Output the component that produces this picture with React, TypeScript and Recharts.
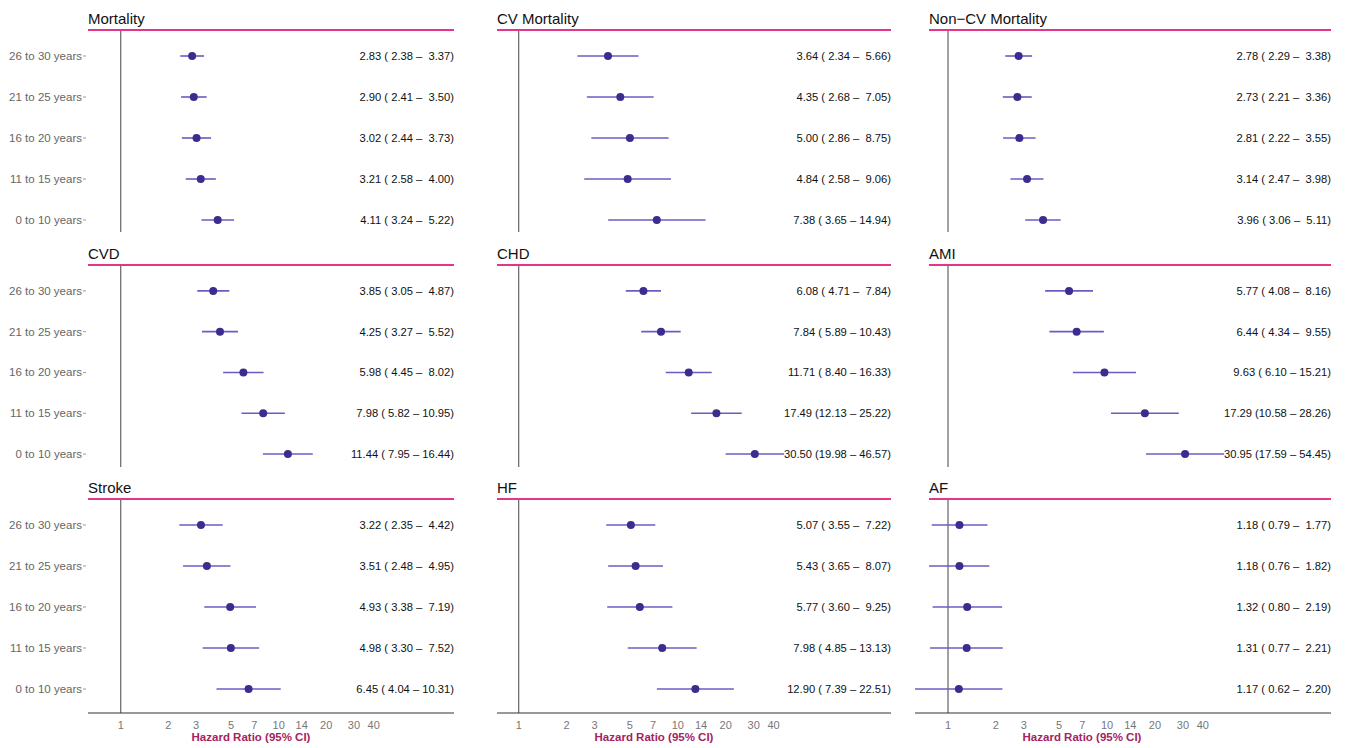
import React from 'react';
import { ScatterChart, Scatter, XAxis, YAxis, ErrorBar, ReferenceLine } from 'recharts';

const ageGroups = ['26 to 30 years', '21 to 25 years', '16 to 20 years', '11 to 15 years', '0 to 10 years'];
const xTicks = [1, 2, 3, 5, 7, 10, 14, 20, 30, 40];

// [HR, lower, upper], top row first
const mortality = [[2.83, 2.38, 3.37], [2.90, 2.41, 3.50], [3.02, 2.44, 3.73], [3.21, 2.58, 4.00], [4.11, 3.24, 5.22]];
const cvMortality = [[3.64, 2.34, 5.66], [4.35, 2.68, 7.05], [5.00, 2.86, 8.75], [4.84, 2.58, 9.06], [7.38, 3.65, 14.94]];
const nonCvMortality = [[2.78, 2.29, 3.38], [2.73, 2.21, 3.36], [2.81, 2.22, 3.55], [3.14, 2.47, 3.98], [3.96, 3.06, 5.11]];
const cvd = [[3.85, 3.05, 4.87], [4.25, 3.27, 5.52], [5.98, 4.45, 8.02], [7.98, 5.82, 10.95], [11.44, 7.95, 16.44]];
const chd = [[6.08, 4.71, 7.84], [7.84, 5.89, 10.43], [11.71, 8.40, 16.33], [17.49, 12.13, 25.22], [30.50, 19.98, 46.57]];
const ami = [[5.77, 4.08, 8.16], [6.44, 4.34, 9.55], [9.63, 6.10, 15.21], [17.29, 10.58, 28.26], [30.95, 17.59, 54.45]];
const stroke = [[3.22, 2.35, 4.42], [3.51, 2.48, 4.95], [4.93, 3.38, 7.19], [4.98, 3.30, 7.52], [6.45, 4.04, 10.31]];
const hf = [[5.07, 3.55, 7.22], [5.43, 3.65, 8.07], [5.77, 3.60, 9.25], [7.98, 4.85, 13.13], [12.90, 7.39, 22.51]];
const af = [[1.18, 0.79, 1.77], [1.18, 0.76, 1.82], [1.32, 0.80, 2.19], [1.31, 0.77, 2.21], [1.17, 0.62, 2.20]];

const panels = [
  { title: 'Mortality', values: mortality },
  { title: 'CV Mortality', values: cvMortality },
  { title: 'Non\u2212CV Mortality', values: nonCvMortality },
  { title: 'CVD', values: cvd },
  { title: 'CHD', values: chd },
  { title: 'AMI', values: ami },
  { title: 'Stroke', values: stroke },
  { title: 'HF', values: hf },
  { title: 'AF', values: af },
];

const cols = [
  { left: 88, titleLeft: 88, right: 454, domain: [0.62, 129], labelX: 251 },
  { left: 497, titleLeft: 497, right: 891, domain: [0.73, 219], labelX: 654 },
  { left: 915, titleLeft: 929, right: 1331, domain: [0.62, 256], labelX: 1082 },
];
const rows = [
  { line: 30, bottom: 232, lastDot: 220, axis: false },
  { line: 265, bottom: 467, lastDot: 454, axis: false },
  { line: 499, bottom: 713, lastDot: 689, axis: true },
];

const font = '"Liberation Sans", Arial, sans-serif';
const YW = 80;

const fmt = (v: number) => v.toFixed(2).padStart(5, '\u00a0');

const YTick = ({ x, y, payload }: any) => (
  <g>
    <line x1={x + 1} x2={x + 4} y1={y} y2={y} stroke="#999" />
    <text x={x} y={y} dy="0.35em" textAnchor="end" fontSize={11.5} fill="#666" fontFamily={font}>
      {ageGroups[5 - payload.value]}
    </text>
  </g>
);

const Panel = ({ title, values, col, row }: any) => {
  const c = cols[col];
  const r = rows[row];
  const showY = col === 0;
  const plotW = c.right - c.left;
  const W = plotW + (showY ? YW : 0);
  const plotH = r.bottom - (r.line + 1);
  const axisH = r.axis ? 22 : 0;
  const yMin = 1 - (r.bottom - r.lastDot) / 41;
  const data = values.map((v: number[], i: number) => ({
    hr: v[0], lo: v[1], hi: v[2], pos: 5 - i, err: [v[0] - v[1], v[2] - v[0]],
  }));
  const shape = (p: any) => {
    const d = p.payload;
    return (
      <g>
        <circle cx={p.cx} cy={p.cy} r={4} fill="#3d2c8d" />
        <text x={W} y={p.cy} dy="0.35em" textAnchor="end" fontSize={11.2} fill="#111" fontFamily={font}>
          {`${d.hr.toFixed(2)} (${fmt(d.lo)} \u2013\u00a0${fmt(d.hi)})`}
        </text>
      </g>
    );
  };
  return (
    <div style={{ position: 'absolute', left: c.left - (showY ? YW : 0), top: r.line - 20, width: W }}>
      <div style={{ marginLeft: (showY ? YW : 0) + c.titleLeft - c.left, height: 19, borderBottom: '2px solid #e3358a', fontFamily: font, fontSize: 15, color: '#111', lineHeight: '17px' }}>
        {title}
      </div>
      <ScatterChart width={W} height={plotH + axisH} margin={{ top: 0, right: 0, bottom: 0, left: 0 }} data={data}>
        <XAxis
          type="number" dataKey="hr" scale="log" domain={c.domain}
          ticks={xTicks} hide={!r.axis} height={axisH} tickLine={false} axisLine={{ stroke: '#333' }}
          tick={{ fontSize: 11, fill: '#777', fontFamily: font }} interval={0}
        />
        <YAxis
          type="number" dataKey="pos" domain={[yMin, 5 + 25 / 41]} ticks={[1, 2, 3, 4, 5]} hide={!showY} width={YW}
          axisLine={false} tickLine={false} tickSize={4} tick={<YTick />}
        />
        <ReferenceLine x={1} stroke="#444" strokeWidth={1} />
        <Scatter dataKey="pos" shape={shape} isAnimationActive={false}>
          <ErrorBar dataKey="err" direction="x" width={0} stroke="#6a5cc0" strokeWidth={1.6} />
        </Scatter>
      </ScatterChart>
    </div>
  );
};

export default function App() {
  return (
    <div style={{ position: 'absolute', left: 0, top: 0, width: 1346, height: 748, background: '#fff' }}>
      {panels.map((p, i) => (
        <Panel key={p.title} title={p.title} values={p.values} col={i % 3} row={Math.floor(i / 3)} />
      ))}
      {cols.map((c) => (
        <div key={c.labelX} style={{ position: 'absolute', top: 731, left: c.labelX - 80, width: 160, textAlign: 'center', fontFamily: font, fontWeight: 'bold', fontSize: 11.5, color: '#a6235f' }}>
          Hazard Ratio (95% CI)
        </div>
      ))}
    </div>
  );
}
